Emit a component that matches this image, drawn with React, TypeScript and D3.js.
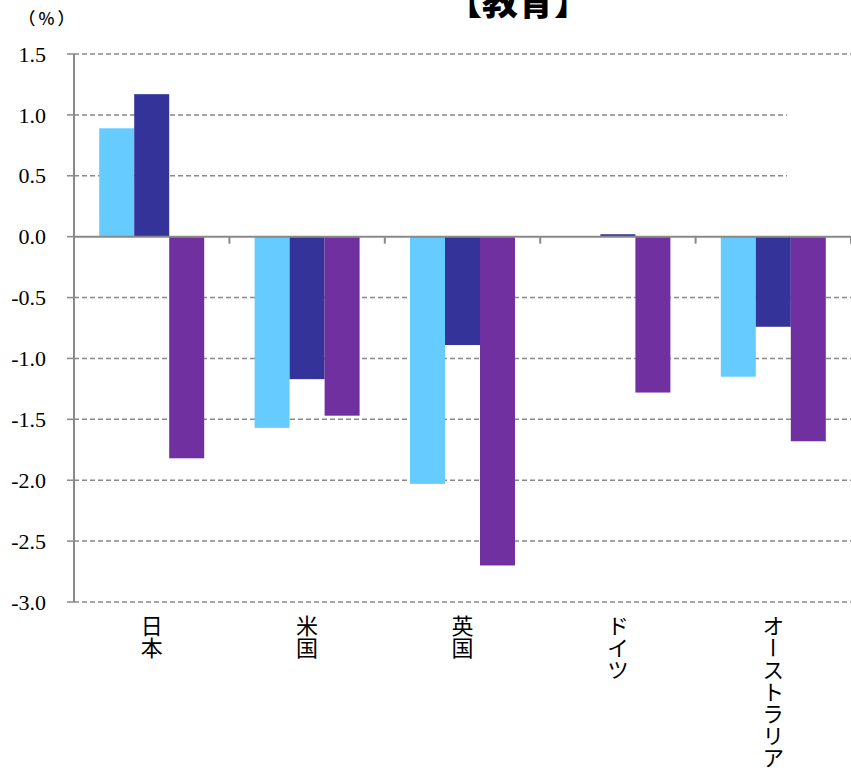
import React from "react";
import * as d3 from "d3";

const categories = ["日本", "米国", "英国", "ドイツ", "オーストラリア"];
const seriesKeys = ["s1", "s2", "s3"];
const series1 = [0.89, -1.57, -2.03, 0, -1.15];
const series2 = [1.17, -1.17, -0.89, 0.02, -0.74];
const series3 = [-1.82, -1.47, -2.7, -1.28, -1.68];
const yTicks = [1.5, 1.0, 0.5, 0.0, -0.5, -1.0, -1.5, -2.0, -2.5, -3.0];
const shortGridTicks = [1.0, 0.5];
const colors = ["#66CCFF", "#333399", "#7030A0"];
const title = "【教育】";
const unitLabel = "（%）";

export default function App() {
  const W = 851;
  const H = 770;
  const left = 74;
  const right = 851;
  const top = 54;
  const bottom = 602;
  const seriesValues = [series1, series2, series3];

  const x = d3.scaleBand<string>().domain(categories).range([left, right]).padding(0);
  const xi = d3
    .scaleBand<string>()
    .domain(seriesKeys)
    .range([0, x.step()])
    .paddingInner(0)
    .paddingOuter(0.72);
  const y = d3.scaleLinear().domain([-3, 1.5]).range([bottom, top]);
  const y0 = y(0);
  const axisColor = "#898989";
  const cjk = "'Noto Sans CJK JP', sans-serif";
  const serif = "'Liberation Serif', serif";

  return (
    <svg
      width={W}
      height={H}
      style={{ position: "absolute", left: 0, top: 0, background: "#fff" }}
    >
      {/* title */}
      <text
        x={518}
        y={15}
        textAnchor="middle"
        style={{ fontFamily: cjk, fontWeight: 900, fontSize: "36px" }}
        fill="#000"
      >
        {title}
      </text>
      <text
        x={48}
        y={25}
        textAnchor="middle"
        style={{ fontFamily: cjk, fontSize: "17px", letterSpacing: "3px", fontWeight: 500 }}
        fill="#000"
      >
        {unitLabel}
      </text>

      {/* gridlines */}
      {yTicks
        .filter((t) => t !== 0)
        .map((t) => (
          <line
            key={"g" + t}
            x1={left}
            x2={shortGridTicks.includes(t) ? 787 : right}
            y1={y(t)}
            y2={y(t)}
            stroke={axisColor}
            strokeWidth={1.5}
            strokeDasharray="5,3"
          />
        ))}

      {/* y ticks & labels */}
      {yTicks.map((t) => (
        <g key={"t" + t}>
          <line x1={67} x2={left} y1={y(t)} y2={y(t)} stroke={axisColor} strokeWidth={1.5} />
          <text
            x={46}
            y={y(t)}
            dy="0.35em"
            textAnchor="end"
            style={{ fontFamily: serif, fontSize: "22px" }}
            fill="#000"
          >
            {t.toFixed(1)}
          </text>
        </g>
      ))}

      {/* bars */}
      {categories.map((c, ci) => (
        <g key={c} transform={`translate(${x(c)},0)`}>
          {seriesKeys.map((k, si) => {
            const v = seriesValues[si][ci];
            if (v === 0) return null;
            const yy = y(Math.max(0, v));
            const h = Math.abs(y(v) - y0);
            return (
              <rect
                key={k}
                x={xi(k)}
                y={yy}
                width={xi.bandwidth()}
                height={h}
                fill={colors[si]}
              />
            );
          })}
        </g>
      ))}

      {/* y axis line */}
      <line x1={left} x2={left} y1={top} y2={bottom} stroke={axisColor} strokeWidth={2} />
      {/* x axis line */}
      <line x1={left} x2={right} y1={y0} y2={y0} stroke={axisColor} strokeWidth={2} />
      {/* category ticks */}
      {categories.map((c) => (
        <line
          key={"ct" + c}
          x1={(x(c) as number) + x.step()}
          x2={(x(c) as number) + x.step()}
          y1={y0}
          y2={y0 + 7}
          stroke={axisColor}
          strokeWidth={2}
        />
      ))}

      {/* category labels */}
      {categories.map((c) => (
        <text
          key={"cl" + c}
          x={(x(c) as number) + x.step() / 2}
          y={615}
          style={{ fontFamily: cjk, fontSize: "22px", writingMode: "vertical-rl" as any }}
          fill="#000"
        >
          {c}
        </text>
      ))}
    </svg>
  );
}
